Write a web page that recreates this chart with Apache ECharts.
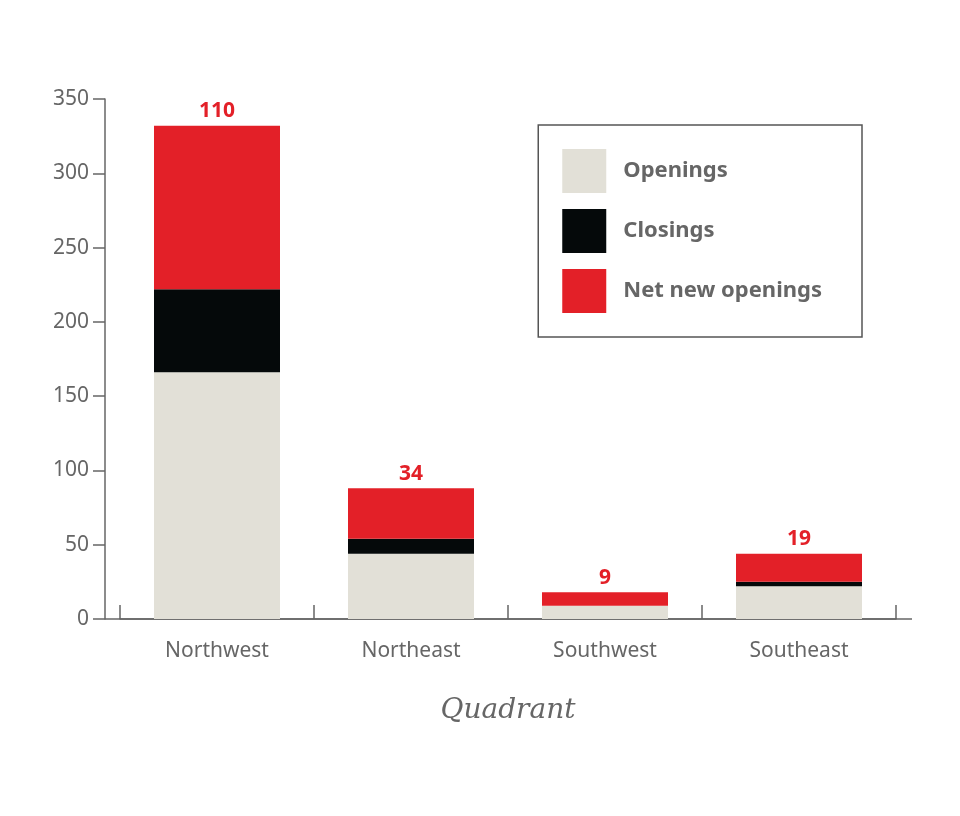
<!DOCTYPE html>
<html><head><meta charset="utf-8">
<script src="https://cdn.jsdelivr.net/npm/echarts@6/dist/echarts.min.js"></script>
<style>html,body{margin:0;background:#fff}#c{width:960px;height:816px}</style>
</head><body><div id="c"></div>
<script>
var quadrants = ['Northwest', 'Northeast', 'Southwest', 'Southeast'];
var openings = [166, 44, 9, 22];
var closings = [56, 10, 0, 3];
var netNew = [110, 34, 9, 19];
var yTicks = { min: 0, max: 350, interval: 50 };

var chart = echarts.init(document.getElementById('c'));
var font = 'Noto Sans';
chart.setOption({
  animation: false,
  grid: { left: 120, right: 64, top: 99, bottom: 197 },
  graphic: [{ type: 'line', shape: { x1: 105, y1: 619, x2: 912, y2: 619 }, style: { stroke: '#666', lineWidth: 1.5 } }],
  legend: {
    orient: 'vertical', right: 98, top: 125,
    padding: [24, 40, 24, 24], itemGap: 16, itemWidth: 44, itemHeight: 44,
    borderColor: '#555', borderWidth: 1.5,
    icon: 'rect',
    textStyle: { fontFamily: font, fontSize: 22, fontWeight: 'bold', color: '#666', padding: [0, 0, 0, 12] },
    data: ['Openings', 'Closings', 'Net new openings']
  },
  xAxis: {
    type: 'category', data: quadrants,
    name: 'Quadrant', nameLocation: 'middle', nameGap: 78,
    nameTextStyle: { fontFamily: 'DejaVu Serif', fontStyle: 'italic', fontSize: 28, color: '#666' },
    axisLine: { lineStyle: { color: '#666', width: 1.5 } },
    axisTick: { show: true, alignWithLabel: false, inside: true, length: 14, lineStyle: { color: '#666', width: 1.5 } },
    axisLabel: { fontFamily: font, fontSize: 21, color: '#666', margin: 22 }
  },
  yAxis: {
    type: 'value', min: yTicks.min, max: yTicks.max, interval: yTicks.interval, offset: 15,
    splitLine: { show: false },
    axisLine: { show: true, lineStyle: { color: '#666', width: 1.5 } },
    axisTick: { show: true, length: 12, lineStyle: { color: '#666', width: 1.5 } },
    axisLabel: { fontFamily: font, fontSize: 21, color: '#666', margin: 16 }
  },
  series: [
    { name: 'Openings', type: 'bar', stack: 's', data: openings, barWidth: 126, itemStyle: { color: '#e2e0d7' } },
    { name: 'Closings', type: 'bar', stack: 's', data: closings, itemStyle: { color: '#05090a' } },
    { name: 'Net new openings', type: 'bar', stack: 's', data: netNew, itemStyle: { color: '#e32028' },
      label: { show: true, position: 'top', distance: 4, fontFamily: font, fontSize: 21, fontWeight: 'bold', color: '#e32028' } }
  ]
});
</script></body></html>
